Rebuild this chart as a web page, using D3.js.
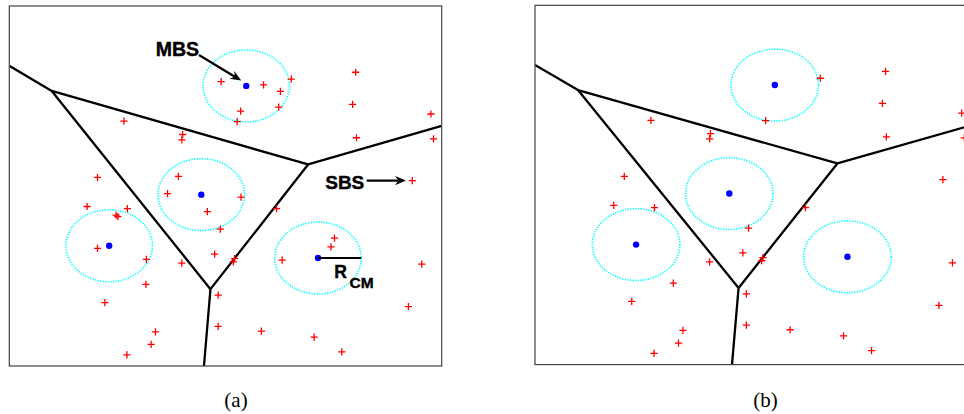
<!DOCTYPE html>
<html>
<head>
<meta charset="utf-8">
<script src="https://cdn.jsdelivr.net/npm/d3@7"></script>
<style>
  html, body { margin: 0; padding: 0; background: #fff; }
</style>
</head>
<body>
<svg id="fig" width="964" height="414"></svg>
<script>
// Service area (m) and cell-centre radius
const areaX = [0, 1000];
const areaY = [0, 1000];
const rCM = 100;

// Macro base stations
const mbsX = [548, 444, 231, 714];
const mbsY = [778, 476, 334, 300];

// Small base stations
const sbsX = [490, 588, 627, 652, 623, 535, 527, 801, 794, 803, 975, 981, 932,
              265, 401, 399, 204, 391, 180, 273, 247, 251, 204, 317, 316, 221,
              338, 328, 272, 366, 458, 488, 475, 399, 483, 483, 536, 618, 521,
              518, 631, 752, 744, 954, 923, 583, 705, 769];
const sbsY = [790, 781, 763, 797, 719, 708, 679, 816, 727, 634, 700, 631, 515,
              680, 643, 628, 524, 527, 443, 437, 419, 415, 327, 296, 227, 176,
               95,  60,  31, 479, 429, 380, 311, 286, 197, 110, 469, 437, 298,
              289, 294, 355, 331, 283, 165,  97,  80,  39];

const panelLabels = ["(a)", "(b)"];

const mbs = mbsX.map((x, i) => ({ x, y: mbsY[i] }));
const sbs = sbsX.map((x, i) => ({ x, y: sbsY[i] }));

// SBSs lying outside every MBS centre zone
const sbsEdge = sbs.filter(s => mbs.every(m => Math.hypot(s.x - m.x, s.y - m.y) > rCM));

const panels = [
  { x0: 9.3, x1: 441.7, y0: 6,   y1: 366,   labelX: 236,   points: sbs,     notes: true },
  { x0: 535, x1: 972.6, y0: 5.3, y1: 364.6, labelX: 765.5, points: sbsEdge, notes: false }
];

const svg = d3.select("#fig");
svg.append("rect").attr("width", 964).attr("height", 414).attr("fill", "#fff");

const voronoi = d3.Delaunay.from(mbs, d => d.x, d => d.y)
  .voronoi([areaX[0], areaY[0], areaX[1], areaY[1]]);

// path context that maps area coordinates to screen
function scaledContext(sx, sy) {
  const p = d3.path();
  return {
    moveTo(x, y) { p.moveTo(sx(x), sy(y)); },
    lineTo(x, y) { p.lineTo(sx(x), sy(y)); },
    closePath() { p.closePath(); },
    rect(x, y, w, h) { p.rect(sx(x), sy(y + h), sx(x + w) - sx(x), sy(y) - sy(y + h)); },
    toString() { return p.toString(); }
  };
}

function arrow(g, x1, y1, x2, y2) {
  const a = Math.atan2(y2 - y1, x2 - x1);
  const L = 11, W = 4.6, back = 7.5;
  const ux = Math.cos(a), uy = Math.sin(a);
  const bx = x2 - ux * L, by = y2 - uy * L;
  g.append("line")
    .attr("x1", x1).attr("y1", y1)
    .attr("x2", x2 - ux * back).attr("y2", y2 - uy * back)
    .attr("stroke", "#000").attr("stroke-width", 2.2);
  g.append("path")
    .attr("d", `M${x2},${y2}L${bx - uy * W},${by + ux * W}L${x2 - ux * back},${y2 - uy * back}L${bx + uy * W},${by - ux * W}Z`)
    .attr("fill", "#000");
}

panels.forEach((P, pi) => {
  const sx = d3.scaleLinear().domain(areaX).range([P.x0, P.x1]);
  const sy = d3.scaleLinear().domain(areaY).range([P.y1, P.y0]);
  const g = svg.append("g");

  g.append("clipPath").attr("id", "clip" + pi)
    .append("rect")
    .attr("x", P.x0).attr("y", P.y0)
    .attr("width", P.x1 - P.x0).attr("height", P.y1 - P.y0);

  const body = g.append("g").attr("clip-path", `url(#clip${pi})`);

  // Voronoi cell boundaries of the macro tier
  const ctx = scaledContext(sx, sy);
  voronoi.render(ctx);
  body.append("path")
    .attr("d", ctx.toString())
    .attr("fill", "none")
    .attr("stroke", "#000")
    .attr("stroke-width", 2.3)
    .attr("stroke-linejoin", "round");

  // cell-centre zones
  body.selectAll("ellipse.zone").data(mbs).join("ellipse")
    .attr("class", "zone")
    .attr("cx", d => sx(d.x)).attr("cy", d => sy(d.y))
    .attr("rx", sx(rCM) - sx(0)).attr("ry", sy(0) - sy(rCM))
    .attr("fill", "none")
    .attr("stroke", "#00ffff")
    .attr("stroke-width", 1.6)
    .attr("stroke-dasharray", "1.3 1.3");

  // small base stations
  const h = 3.6;
  body.selectAll("path.sbs").data(P.points).join("path")
    .attr("class", "sbs")
    .attr("d", d => {
      const x = sx(d.x), y = sy(d.y);
      return `M${x - h},${y}H${x + h}M${x},${y - h}V${y + h}`;
    })
    .attr("stroke", "#ff0000")
    .attr("stroke-width", 1.3);

  // macro base stations
  body.selectAll("circle.mbs").data(mbs).join("circle")
    .attr("class", "mbs")
    .attr("cx", d => sx(d.x)).attr("cy", d => sy(d.y))
    .attr("r", 3.2)
    .attr("fill", "#0000ff");

  if (P.notes) {
    const font = "'Liberation Sans', Arial, sans-serif";
    const top = mbs[0];
    // MBS label and arrow
    body.append("text")
      .attr("x", sx(438.7)).attr("y", sy(861))
      .attr("text-anchor", "end")
      .attr("font-family", font).attr("font-weight", "bold").attr("font-size", 19.5)
      .attr("stroke", "#000").attr("stroke-width", 0.4)
      .text("MBS");
    arrow(body, sx(438.7), sy(863.9), sx(top.x) - 5, sy(top.y) - 5.3);

    // SBS label and arrow
    const target = sbs[12];
    body.append("text")
      .attr("x", sx(821)).attr("y", sy(490.8))
      .attr("text-anchor", "end")
      .attr("font-family", font).attr("font-weight", "bold").attr("font-size", 19)
      .attr("stroke", "#000").attr("stroke-width", 0.4)
      .text("SBS");
    arrow(body, sx(826.5), sy(target.y), sx(target.x) - 6.3, sy(target.y));

    // radius marker
    const rc = mbs[3];
    body.append("line")
      .attr("x1", sx(rc.x)).attr("y1", sy(rc.y))
      .attr("x2", sx(rc.x + rCM)).attr("y2", sy(rc.y))
      .attr("stroke", "#000").attr("stroke-width", 2);
    const t = body.append("text")
      .attr("x", sx(751.6)).attr("y", sy(245.3))
      .attr("font-family", font).attr("font-weight", "bold").attr("font-size", 17.5)
      .attr("stroke", "#000").attr("stroke-width", 0.4);
    t.append("tspan").text("R");
    t.append("tspan").attr("dx", 2.6).attr("dy", 10).attr("font-size", 15.5).text("CM");
  }

  // frame
  g.append("rect")
    .attr("x", P.x0).attr("y", P.y0)
    .attr("width", P.x1 - P.x0).attr("height", P.y1 - P.y0)
    .attr("fill", "none")
    .attr("stroke", "#444")
    .attr("stroke-width", 1.2);

  // sub-figure caption
  svg.append("text")
    .attr("x", P.labelX).attr("y", 407)
    .attr("text-anchor", "middle")
    .attr("font-family", "'Liberation Serif', 'Times New Roman', serif")
    .attr("font-size", 21)
    .text(panelLabels[pi]);
});
</script>
</body>
</html>
